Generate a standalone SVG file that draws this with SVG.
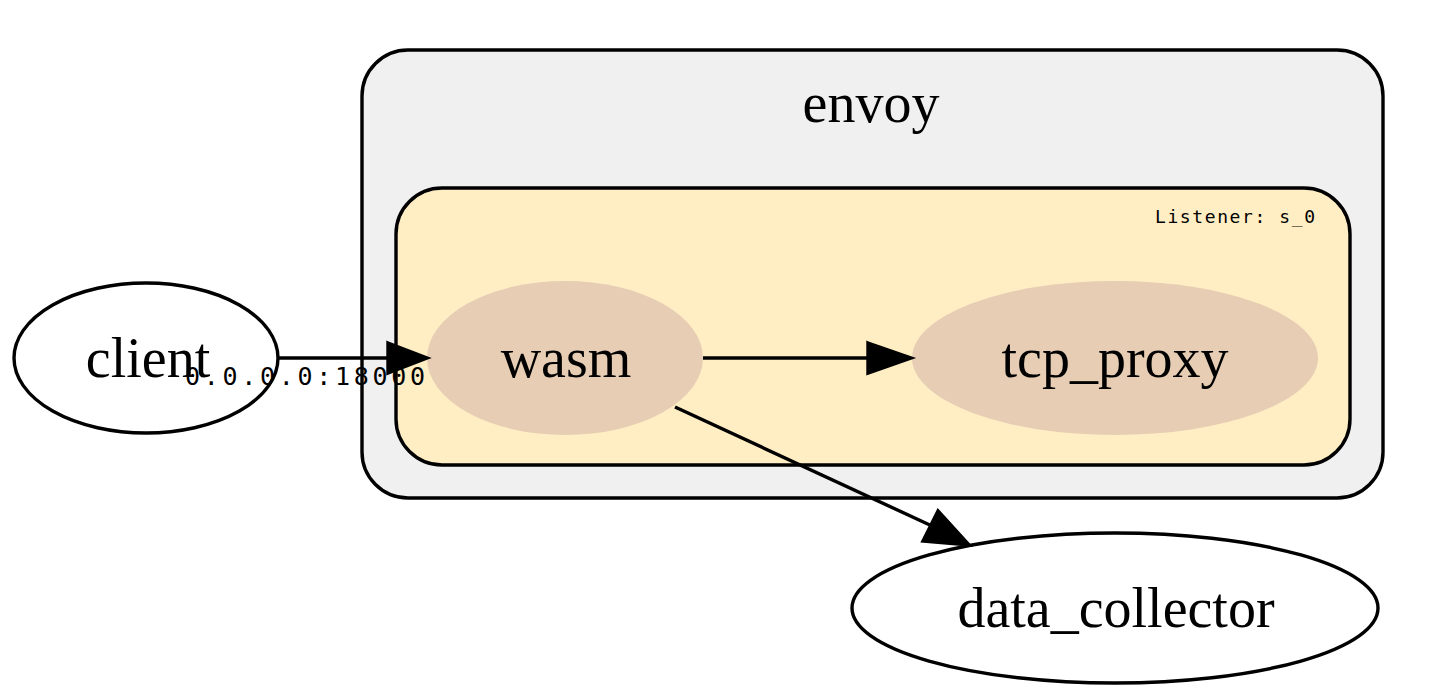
<svg xmlns="http://www.w3.org/2000/svg" width="1433" height="700" viewBox="0 0 1433 700">
<style>
.serif{font-family:"Liberation Serif","Times New Roman",serif;font-size:56px;fill:#000;text-anchor:middle}
.mono{font-family:"DejaVu Sans Mono","Liberation Mono",monospace;fill:#000}
.edge{stroke:#000;stroke-width:3.4;fill:none}
.head{fill:#000;stroke:#000;stroke-width:3.4}
.node{fill:#fff;stroke:#000;stroke-width:3.4}
.inner{fill:#e6cdb4;stroke:none}
</style>
<rect width="1433" height="700" fill="#fff"/>
<g id="cluster_envoy">
<rect x="362" y="50" width="1021" height="448" rx="46" ry="46" fill="#f0f0f0" stroke="#000" stroke-width="3.4"/>
<text class="serif" x="871" y="122">envoy</text>
</g>
<g id="cluster_listener">
<rect x="396" y="188" width="954" height="277" rx="46" ry="46" fill="#ffeec4" stroke="#000" stroke-width="3.4"/>
<text class="mono" x="1315" y="223" font-size="18" text-anchor="end" textLength="160" lengthAdjust="spacing">Listener: s_0</text>
</g>
<g id="node_client">
<ellipse class="node" cx="146" cy="358" rx="132" ry="75"/>
<text class="serif" x="148" y="377">client</text>
</g>
<g id="node_wasm">
<ellipse class="inner" cx="565" cy="358" rx="138" ry="77"/>
<text class="serif" x="566" y="377">wasm</text>
</g>
<g id="node_tcp_proxy">
<ellipse class="inner" cx="1115" cy="358" rx="203" ry="77"/>
<text class="serif" x="1115" y="377">tcp_proxy</text>
</g>
<g id="node_data_collector">
<ellipse class="node" cx="1115" cy="608" rx="263" ry="75"/>
<text class="serif" x="1116" y="627">data_collector</text>
</g>
<g id="connectors">
<line class="edge" x1="278" y1="358" x2="388" y2="358"/>
<polygon class="head" points="388,343 427,358 388,373"/>
<text class="mono" x="305" y="385" font-size="25" text-anchor="middle" textLength="240" lengthAdjust="spacing">0.0.0.0:18000</text>
<line class="edge" x1="703" y1="358" x2="868" y2="358"/>
<polygon class="head" points="868,343 911,358 868,373"/>
<line class="edge" x1="675" y1="407" x2="932" y2="526"/>
<polygon class="head" points="938,511 969,545 923,541"/>
</g>
</svg>
